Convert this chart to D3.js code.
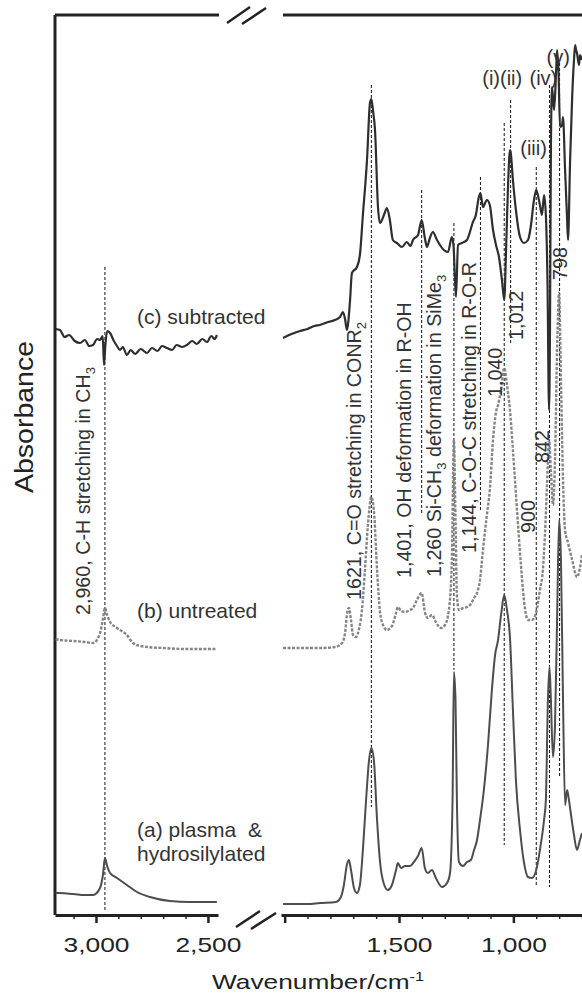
<!DOCTYPE html>
<html>
<head>
<meta charset="utf-8">
<script src="https://cdn.jsdelivr.net/npm/d3@7"></script>
<style>
  body { margin: 0; background: #fff; }
  svg { display: block; font-family: "Liberation Sans", Arial, sans-serif; }
</style>
</head>
<body>
<div id="chart"></div>
<script>
////////////////////////////////////////////////////////////////////
////////////////////////////  Data  ////////////////////////////////
// [wavenumber (cm-1), absorbance (arb. units, spectra stacked)]
const subtractedHigh = [
  [3180, 58.6], [3161, 58.5], [3140, 57.8], [3120, 58.0], [3095, 57.4], [3071, 57.2],
  [3050, 57.5], [3030, 56.9], [3013, 57.0], [2995, 57.6], [2982, 57.5], [2970, 57.9],
  [2964, 55.0], [2958, 57.0], [2950, 58.4], [2937, 58.2], [2920, 57.4], [2906, 56.9],
  [2893, 56.5], [2880, 56.8], [2862, 56.0], [2845, 56.5], [2825, 56.1], [2800, 56.6],
  [2772, 56.2], [2750, 56.7], [2725, 56.4], [2705, 56.9], [2683, 56.7], [2660, 56.5],
  [2640, 57.0], [2615, 56.8], [2594, 57.0], [2570, 57.4], [2550, 57.1], [2525, 57.6],
  [2504, 57.3], [2485, 57.9], [2470, 57.6], [2460, 58.0]
];
const subtractedLow = [
  [2007, 57.7], [1970, 58.1], [1933, 58.4], [1900, 58.6], [1870, 58.9], [1846, 59.0],
  [1810, 59.3], [1780, 59.5], [1758, 59.8], [1745, 60.3], [1736, 59.6], [1728, 58.5],
  [1714, 61.5], [1706, 64.2], [1684, 64.8], [1671, 66.0], [1658, 70.0], [1640, 75.5],
  [1627, 81.2], [1621, 81.6], [1614, 80.5], [1605, 78.5], [1592, 70.8], [1583, 69.2],
  [1566, 70.0], [1553, 70.7], [1540, 69.5], [1527, 67.5], [1509, 67.2], [1487, 66.8],
  [1466, 67.3], [1450, 66.9], [1439, 67.5], [1417, 68.0], [1401, 69.5], [1387, 67.7],
  [1378, 66.8], [1365, 67.7], [1352, 68.3], [1334, 67.5], [1321, 67.0], [1304, 66.5],
  [1286, 66.3], [1269, 67.8], [1262, 67.0], [1251, 61.8], [1242, 67.0], [1225, 67.2],
  [1203, 67.5], [1190, 68.3], [1177, 69.3], [1164, 70.0], [1151, 71.8], [1144, 72.2],
  [1133, 70.8], [1116, 71.5], [1103, 71.0], [1089, 68.5], [1076, 67.0], [1063, 65.8],
  [1050, 63.5], [1040, 61.5], [1032, 66.5], [1024, 72.5], [1015, 76.5], [1012, 76.3],
  [1002, 73.5], [989, 70.5], [971, 67.8], [954, 67.2], [936, 67.5], [923, 69.0],
  [910, 71.5], [900, 72.5], [893, 72.0], [884, 71.0], [875, 70.0], [866, 72.0],
  [858, 70.0], [851, 63.5], [844, 50.5], [840, 58.5], [836, 76.5], [831, 82.8],
  [822, 80.5], [813, 84.5], [809, 86.5], [803, 84.5], [796, 78.8], [787, 79.0],
  [783, 79.8], [774, 74.5], [765, 69.5], [761, 67.5], [752, 75.5], [743, 81.8],
  [735, 85.5], [730, 87.0], [726, 86.5], [722, 86.2], [713, 85.0], [709, 86.0], [700, 85.5]
];

const untreatedHigh = [
  [3180, 27.6], [3161, 27.5], [3100, 27.4], [3050, 27.3], [3013, 27.2], [2982, 28.2],
  [2969, 29.6], [2960, 30.7], [2950, 30.0], [2937, 29.3], [2906, 28.7], [2862, 28.0],
  [2835, 27.2], [2800, 26.9], [2772, 26.8], [2700, 26.7], [2600, 26.6], [2460, 26.6]
];
const untreatedLow = [
  [2007, 26.7], [1900, 26.7], [1846, 26.7], [1780, 26.8], [1749, 27.2], [1736, 28.2],
  [1728, 30.0], [1719, 30.7], [1710, 29.5], [1701, 28.0], [1688, 27.8], [1675, 28.6],
  [1662, 30.5], [1649, 34.5], [1636, 39.0], [1621, 41.8], [1610, 40.5], [1596, 34.5],
  [1583, 30.3], [1570, 29.0], [1553, 28.5], [1531, 28.9], [1513, 30.2], [1505, 30.8],
  [1491, 30.4], [1474, 30.3], [1452, 30.5], [1439, 30.7], [1422, 31.5], [1401, 32.2],
  [1387, 30.3], [1374, 29.7], [1356, 30.0], [1339, 29.3], [1317, 28.7], [1299, 29.0],
  [1282, 30.5], [1269, 35.5], [1260, 47.5], [1253, 39.5], [1247, 32.0], [1238, 30.5],
  [1220, 30.7], [1203, 30.8], [1186, 31.1], [1172, 31.7], [1159, 32.2], [1146, 33.5],
  [1133, 36.5], [1116, 40.0], [1103, 42.5], [1089, 47.5], [1076, 50.3], [1067, 51.0],
  [1054, 52.5], [1040, 54.7], [1028, 53.0], [1015, 50.5], [1002, 46.5], [985, 40.8],
  [967, 35.0], [954, 31.5], [936, 29.5], [919, 29.5], [900, 30.3], [884, 32.5],
  [871, 34.5], [862, 38.0], [853, 43.0], [844, 47.5], [836, 44.5], [827, 41.0],
  [818, 45.5], [809, 56.5], [800, 62.2], [792, 53.5], [783, 43.5], [774, 38.5],
  [761, 37.2], [743, 35.5], [722, 33.8], [709, 34.7], [700, 36.0]
];

const plasmaHigh = [
  [3180, 2.2], [3161, 2.2], [3100, 2.1], [3050, 2.0], [3013, 2.0], [2982, 2.7],
  [2969, 4.0], [2960, 5.7], [2950, 4.9], [2937, 4.2], [2906, 3.7], [2862, 3.0],
  [2817, 2.3], [2759, 1.8], [2670, 1.4], [2580, 1.3], [2460, 1.3]
];
const plasmaLow = [
  [2007, 1.1], [1900, 1.1], [1846, 1.2], [1776, 1.3], [1754, 1.8], [1741, 3.0],
  [1728, 5.0], [1719, 5.5], [1710, 4.5], [1697, 2.7], [1684, 2.2], [1671, 3.0],
  [1658, 6.5], [1644, 11.5], [1631, 15.5], [1621, 16.7], [1610, 15.5], [1596, 9.5],
  [1583, 5.3], [1566, 3.1], [1549, 2.5], [1531, 3.0], [1513, 4.5], [1505, 5.2],
  [1491, 4.7], [1474, 4.9], [1452, 4.9], [1435, 5.3], [1417, 5.9], [1401, 6.7],
  [1387, 4.7], [1374, 4.2], [1356, 4.5], [1339, 3.7], [1312, 2.8], [1290, 3.2],
  [1277, 4.2], [1266, 11.5], [1260, 24.3], [1253, 21.5], [1247, 11.5], [1238, 5.3],
  [1220, 4.9], [1203, 5.3], [1186, 5.5], [1172, 6.5], [1159, 7.5], [1146, 9.5],
  [1129, 12.5], [1111, 17.0], [1094, 22.5], [1080, 26.0], [1067, 27.5], [1054, 30.0],
  [1040, 32.0], [1028, 30.5], [1015, 27.8], [1002, 20.5], [989, 13.5], [971, 8.5],
  [954, 5.3], [936, 3.8], [919, 3.7], [900, 4.5], [884, 6.5], [866, 9.5],
  [858, 11.5], [849, 21.5], [842, 24.8], [836, 21.5], [827, 15.8], [818, 19.0],
  [809, 29.5], [800, 39.5], [792, 35.5], [783, 21.5], [774, 11.0], [765, 12.5],
  [757, 11.5], [748, 10.0], [735, 8.0], [722, 6.5], [709, 7.5], [700, 8.2]
];

// peak marker lines: wavenumber, top and bottom (absorbance units)
const peakWavenumbers = [2960, 1621, 1401, 1260, 1144, 1040, 1012, 900, 842, 798];
const peakTops = [64.8, 83.0, 72.5, 69.2, 73.8, 79.2, 81.5, 74.8, 83.0, 85.2];
const peakBottoms = [0.5, 10.8, 40.2, 24.5, 40.5, 7.0, 57.0, 2.8, 2.8, 13.8];

// axis ticks
const ticksHighMajor = [3000, 2500];
const ticksHighMinor = [3100, 2900, 2800, 2700, 2600];
const ticksLowMajor = [2000, 1500, 1000];
const ticksLowMinor = [1900, 1800, 1700, 1600, 1400, 1300, 1200, 1100, 900, 800, 700];
const tickLabels = { 3000: "3,000", 2500: "2,500", 1500: "1,500", 1000: "1,000" };

////////////////////////////////////////////////////////////////////
////////////////////////////  Init  ////////////////////////////////
const width = 582;
const height = 994;
const svg = d3.select("#chart").append("svg")
  .attr("width", width).attr("height", height);

const xHigh = d3.scaleLinear().domain([3183, 2455]).range([55, 218]);
const xLow = d3.scaleLinear().domain([2016, 700]).range([281, 582]);
const y = d3.scaleLinear().domain([0, 90]).range([915, 15]);
const xOf = (w) => (w > 2300 ? xHigh(w) : xLow(w));

const ink = "#222";

// frame: left spine + top line
svg.append("line")
  .attr("x1", xHigh.range()[0]).attr("x2", xHigh.range()[0])
  .attr("y1", y.range()[1]).attr("y2", y.range()[0])
  .attr("stroke", ink).attr("stroke-width", 3);
[[xHigh.range()[0], xHigh.range()[1] + 1], [xLow.range()[0] + 2, width]].forEach((r) => {
  svg.append("line")
    .attr("x1", r[0]).attr("x2", r[1])
    .attr("y1", y.range()[1]).attr("y2", y.range()[1])
    .attr("stroke", ink).attr("stroke-width", 3);
});

// axis break marks
const breaks = [
  [[227, 23, 250, 7], [242, 24, 266, 8]],
  [[236, 927, 260, 911], [251, 929, 276, 913]]
];
breaks.flat().forEach((b) => {
  svg.append("line")
    .attr("x1", b[0]).attr("y1", b[1]).attr("x2", b[2]).attr("y2", b[3])
    .attr("stroke", ink).attr("stroke-width", 2.5);
});

// bottom axes
function drawAxis(scale, major, minor) {
  const g = svg.append("g").attr("transform", `translate(0,${y.range()[0]})`);
  g.append("g")
    .call(d3.axisBottom(scale).tickValues(minor).tickSize(4).tickFormat("").tickSizeOuter(0))
    .call((s) => s.select(".domain").remove())
    .call((s) => s.selectAll("line").attr("stroke", ink).attr("stroke-width", 1.5));
  g.append("g")
    .call(d3.axisBottom(scale).tickValues(major).tickSize(8).tickPadding(14)
      .tickFormat((d) => tickLabels[d] || "").tickSizeOuter(0))
    .call((s) => s.select(".domain").attr("stroke", ink).attr("stroke-width", 3))
    .call((s) => s.selectAll("line").attr("stroke", ink).attr("stroke-width", 2.5))
    .call((s) => s.selectAll("text")
      .attr("fill", ink)
      .style("font-size", "21px")
      .style("font-family", "Liberation Sans, Arial, sans-serif")
      .filter((d) => tickLabels[d])
      .attr("textLength", 66)
      .attr("lengthAdjust", "spacingAndGlyphs"));
}
drawAxis(xHigh, ticksHighMajor, ticksHighMinor);
drawAxis(xLow, ticksLowMajor, ticksLowMinor);

// axis titles
const xTitle = svg.append("text")
  .attr("x", 318).attr("y", 989)
  .attr("text-anchor", "middle")
  .attr("fill", ink)
  .style("font-size", "21px")
  .attr("textLength", 212)
  .attr("lengthAdjust", "spacingAndGlyphs");
xTitle.append("tspan").text("Wavenumber/cm");
xTitle.append("tspan").attr("dy", -8).style("font-size", "13px").text("-1");

svg.append("text")
  .attr("transform", "translate(33,417) rotate(-90)")
  .attr("text-anchor", "middle")
  .attr("fill", ink)
  .style("font-size", "25px")
  .attr("textLength", 152)
  .attr("lengthAdjust", "spacingAndGlyphs")
  .text("Absorbance");

////////////////////////////////////////////////////////////////////
////////////////////////////  Marks  ///////////////////////////////
// peak marker lines
svg.append("g").selectAll("line")
  .data(peakWavenumbers)
  .join("line")
  .attr("x1", (d) => xOf(d)).attr("x2", (d) => xOf(d))
  .attr("y1", (d, i) => y(peakTops[i])).attr("y2", (d, i) => y(peakBottoms[i]))
  .attr("stroke", "#111").attr("stroke-width", 1)
  .attr("stroke-dasharray", "3,2");

const lineHigh = d3.line().x((d) => xHigh(d[0])).y((d) => y(d[1])).curve(d3.curveMonotoneX);
const lineLow = d3.line().x((d) => xLow(d[0])).y((d) => y(d[1])).curve(d3.curveMonotoneX);

const series = [
  { high: plasmaHigh, low: plasmaLow, stroke: "#4d4d4d", width: 2, dash: null },
  { high: untreatedHigh, low: untreatedLow, stroke: "#858585", width: 2.4, dash: "3,1.5" },
  { high: subtractedHigh, low: subtractedLow, stroke: "#2e2e2e", width: 2.2, dash: null }
];
series.forEach((s) => {
  [[s.high, lineHigh], [s.low, lineLow]].forEach(([data, gen]) => {
    svg.append("path")
      .datum(data)
      .attr("fill", "none")
      .attr("stroke", s.stroke)
      .attr("stroke-width", s.width)
      .attr("stroke-dasharray", s.dash)
      .attr("stroke-linejoin", "round")
      .attr("d", gen);
  });
});

////////////////////////////////////////////////////////////////////
////////////////////////////  Labels  //////////////////////////////
const txt = "#333";

// series names
function seriesLabel(x, yy, parts) {
  const t = svg.append("text").attr("x", x).attr("y", yy)
    .attr("fill", txt).style("font-size", "21px");
  parts.forEach((p) => {
    const ts = t.append("tspan").text(p[0]);
    if (p[1] != null) ts.attr("x", p[1]);
  });
}
seriesLabel(137, 324, [["(c) subtracted"]]);
seriesLabel(137, 618, [["(b) untreated"]]);
seriesLabel(137, 837, [["(a) plasma"], ["&", 248]]);
seriesLabel(137, 861, [["hydrosilylated"]]);

// rotated band assignments: [peak, dx of baseline, bottom (abs), parts]
const bandNotes = [
  [2960, -15, 30.0, [["2,960, C-H stretching in CH"], ["3", "sub"]]],
  [1621, -10, 31.5, [["1621, C=O stretching in CONR"], ["2", "sub"]]],
  [1401, -11, 33.7, [["1,401, OH deformation in R-OH"]]],
  [1260, -13, 33.8, [["1,260 Si-CH"], ["3", "sub"], [" deformation in SiMe"], ["3", "sub"]]],
  [1144, -4, 36.2, [["1,144, C-O-C stretching in R-O-R"]]],
  [1040, -2, 51.8, [["1,040"]]],
  [1012, 12, 57.5, [["1,012"]]],
  [900, -1, 38.2, [["900"]]],
  [842, -1, 45.2, [["842"]]],
  [798, 7, 63.5, [["798"]]]
];
bandNotes.forEach(([wn, dx, a, parts]) => {
  const t = svg.append("text")
    .attr("transform", `translate(${xOf(wn) + dx},${y(a)}) rotate(-90)`)
    .attr("fill", txt)
    .style("font-size", "19.7px");
  let shifted = false;
  parts.forEach(([s, kind]) => {
    const ts = t.append("tspan").text(s);
    if (kind === "sub") {
      ts.attr("dy", 5).style("font-size", "13px");
      shifted = true;
    } else if (shifted) {
      ts.attr("dy", -5);
      shifted = false;
    }
  });
});

// roman numeral peak tags
const tagText = ["(i)(ii)", "(iv)", "(iii)", "(v)"];
const tagPeak = [1040, 842, 900, 798];
const tagDx = [-22, -20, -16, -13];
const tagAbs = [83.0, 83.0, 76.0, 85.1];
svg.append("g").selectAll("text")
  .data(tagText)
  .join("text")
  .attr("x", (d, i) => xOf(tagPeak[i]) + tagDx[i])
  .attr("y", (d, i) => y(tagAbs[i]))
  .attr("fill", txt)
  .style("font-size", "20px")
  .text((d) => d);
</script>
</body>
</html>
